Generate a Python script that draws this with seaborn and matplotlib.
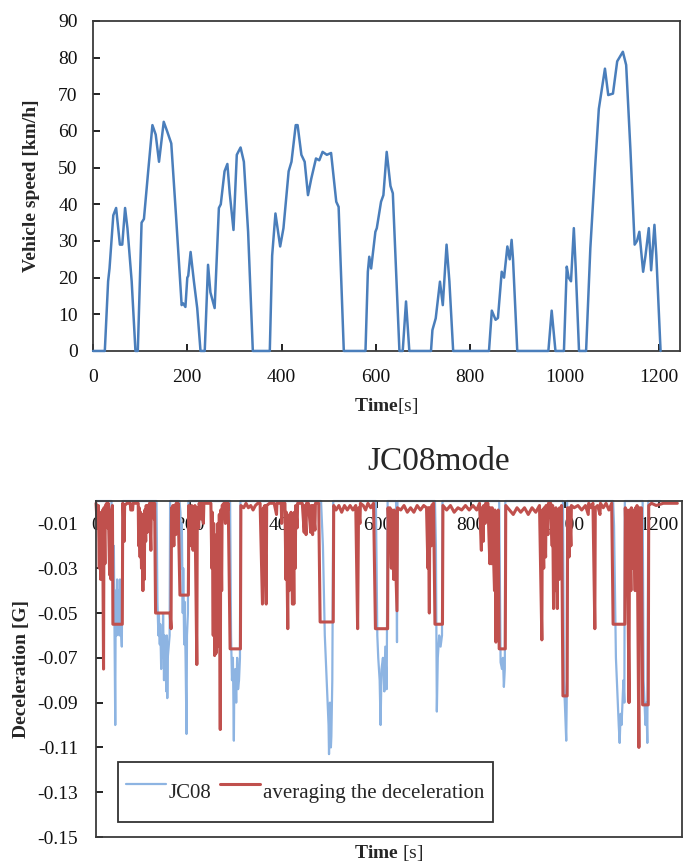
import matplotlib
matplotlib.use("Agg")
import matplotlib.pyplot as plt
import seaborn as sns
import numpy as np
from matplotlib.ticker import FormatStrFormatter

# JC08 speed profile (time [s], speed [km/h])
speed_t = [0, 25, 32, 35, 43, 49, 57, 62, 68, 73, 82, 90, 95, 103, 108, 117, 126, 133, 140, 150,
           157, 166, 176, 184, 188, 191, 196, 200, 202, 207, 214, 221, 228, 237, 244, 249, 258, 267,
           271, 279, 285, 290, 298, 305, 313, 320, 329, 339, 375, 380, 387, 397, 404, 415, 421, 430,
           434, 442, 449, 456, 463, 473, 480, 487, 496, 505, 516, 521, 532, 578, 583, 586, 590, 599,
           602, 611, 616, 623, 631, 636, 650, 657, 664, 671, 717, 720, 727, 736, 742, 750, 756, 764,
           840, 846, 854, 859, 867, 872, 879, 884, 888, 891, 900, 966, 973, 981, 999, 1005, 1009,
           1014, 1020, 1024, 1031, 1046, 1055, 1065, 1073, 1086, 1093, 1103, 1112, 1124, 1131, 1140,
           1149, 1154, 1159, 1167, 1172, 1179, 1184, 1191, 1195, 1204]
speed_v = [0, 0, 19, 22.5, 37, 39, 29, 29, 39, 33.5, 19, 0, 0, 35, 36, 49, 61.6, 59, 51.6, 62.5,
           60, 56.6, 37, 20.7, 12.5, 13, 12, 20, 20.5, 27, 19, 11.7, 0, 0, 23.5, 16, 11.7, 39,
           40, 49, 51, 43, 33, 53.5, 55.5, 51.6, 32.5, 0, 0, 26, 37.5, 28.5, 33.5, 49, 51.6, 61.6,
           61.6, 53.5, 51.6, 42.5, 47, 52.5, 52, 54.3, 53.5, 54, 40.7, 39.3, 0, 0, 21.6, 25.7, 22.5, 32.5,
           33.5, 40.7, 42.5, 54.3, 45, 43, 0, 0, 13.5, 0, 0, 5.7, 8.9, 18.9, 12.5, 29, 19, 0,
           0, 11, 8.5, 9, 21.6, 20, 28.5, 25, 30.3, 25, 0, 0, 11, 0, 0, 23, 20,
           19, 33.5, 22.5, 0, 0, 28, 49.8, 66, 77, 69.8, 70.2, 79, 81.6, 78, 55,
           29, 30, 32.5, 21.6, 26, 33.5, 22, 34.4, 26, 0]

# deceleration of the cycle (blue) [G]
jc08_t = [0, 33, 34, 35, 37, 38, 40, 41, 42, 44, 45, 47, 48, 50, 51, 53, 55, 56, 57,
          129, 131, 133, 134, 136, 137, 139, 140, 142, 143, 145, 146, 148, 150, 151, 152, 153, 155, 157, 158,
          178, 180, 182, 183, 185, 186, 188, 189, 191, 193, 194, 196, 197,
          286, 288, 290, 292, 294, 295, 297, 299, 301, 303, 305, 307, 308,
          480, 484, 486, 488, 490, 492, 494, 496, 497, 499, 501, 502, 504, 506,
          597, 600, 602, 605, 607, 609, 612, 615, 617, 620, 622, 640, 642, 643,
          723, 725, 727, 729, 732, 735, 738, 739,
          860, 863, 866, 868, 870, 872, 873,
          996, 998, 1000, 1003, 1004, 1005,
          1103, 1105, 1107, 1109, 1111, 1113, 1115, 1117, 1119, 1121, 1123, 1125, 1127, 1128,
          1166, 1168, 1170, 1172, 1174, 1176, 1178, 1204]
jc08_g = [0, 0, -0.031, -0.005, -0.045, -0.02, -0.07, -0.1, -0.04, -0.06, -0.035, -0.058, -0.04, -0.06, -0.035, -0.055, -0.065, -0.03, 0,
          0, -0.045, -0.06, -0.05, -0.064, -0.055, -0.075, -0.06, -0.07, -0.05, -0.08, -0.06, -0.07, -0.085, -0.06, -0.088, -0.07, -0.065, -0.06, 0,
          0, -0.005, -0.03, -0.01, -0.05, -0.03, -0.064, -0.045, -0.07, -0.104, -0.06, -0.05, 0,
          0, -0.06, -0.08, -0.07, -0.107, -0.08, -0.075, -0.09, -0.07, -0.084, -0.08, -0.07, 0,
          0, -0.02, -0.04, -0.06, -0.07, -0.08, -0.09, -0.1, -0.113, -0.09, -0.11, -0.105, -0.08, 0,
          0, -0.06, -0.07, -0.08, -0.1, -0.075, -0.07, -0.085, -0.065, -0.084, 0, 0, -0.063, 0,
          0, -0.02, -0.094, -0.07, -0.06, -0.065, -0.06, 0,
          0, -0.072, -0.075, -0.07, -0.083, -0.075, 0,
          0, -0.08, -0.09, -0.107, -0.09, 0,
          0, -0.011, -0.04, -0.07, -0.08, -0.09, -0.1, -0.108, -0.095, -0.1, -0.09, -0.08, -0.09, 0,
          0, -0.08, -0.09, -0.1, -0.09, -0.108, 0, 0]

# averaged deceleration (red) [G]
avg_t = [0, 3, 5, 7, 8, 10, 11, 13, 14, 16, 17, 19, 20, 23, 25, 26, 29, 30, 32, 33, 35,
         36, 56, 57, 58, 60, 61, 66, 73, 74, 78, 79,
         90, 91, 92, 94, 95, 97, 98, 100, 101, 103, 104, 106, 107, 109, 110, 113, 114, 117, 118, 122, 124, 125,
         127, 158, 160, 161, 163, 164, 166, 167, 170, 171, 174, 175,
         179, 197, 198, 200, 201, 203, 204, 207, 208, 210, 211, 215, 216, 219, 220, 224, 225, 229, 230, 236,
         245, 247, 248, 250, 251, 253, 254, 256, 257, 259, 260, 262, 263, 265, 266, 268, 269, 273, 276, 277, 281, 282,
         286, 308, 309, 315, 320, 325, 330, 335, 340, 345, 350, 355, 357, 359, 360, 363, 364,
         370, 380, 385, 386, 395, 396, 397,
         403, 405, 406, 409, 410, 412, 413, 415, 416, 419, 420, 422, 423, 425, 426, 429, 430,
         440, 444, 445, 448, 449, 453, 458, 459, 462, 463, 467, 468, 475,
         478, 506, 507, 512, 518, 524, 530, 536, 542, 548, 554,
         558, 560, 563, 564, 570, 575, 580, 586, 592,
         596, 622, 623, 626, 627, 630, 631, 635, 636, 642, 643,
         650, 657, 664, 671, 678, 685, 692, 699, 705, 708, 709, 711, 712, 715, 716, 720,
         723, 739, 740, 748, 756, 764, 772, 780, 788, 796, 804, 812, 818,
         822, 823, 826, 827, 830, 831, 836, 840, 841, 844, 845, 850, 851, 853, 854, 857, 858,
         860, 873, 874, 882, 890, 898, 906, 914, 922, 930, 938, 946,
         951, 952, 955, 956, 959, 960, 964, 965,
         970, 973, 974, 976, 977, 980, 981, 984, 985, 988, 989, 992, 993,
         996, 1005, 1006, 1009, 1010, 1013, 1014, 1020, 1028, 1036, 1044, 1050, 1051, 1056, 1060,
         1064, 1065, 1070, 1075, 1076, 1082, 1088, 1094, 1100,
         1103, 1128, 1129, 1132, 1133, 1137, 1138, 1141, 1142, 1146, 1147, 1150, 1151, 1153, 1154,
         1158, 1159, 1162, 1163, 1166, 1178, 1179, 1185, 1195, 1210, 1225, 1240]
avg_g = [-0.001, -0.012, -0.002, -0.03, -0.005, -0.035, -0.01, -0.022, -0.004, -0.075, -0.003, -0.028, -0.002, -0.001, -0.012, -0.001, -0.033, -0.01, -0.035, -0.004, -0.002,
         -0.055, -0.055, -0.001, -0.002, -0.018, -0.002, -0.001, -0.001, -0.004, -0.004, -0.001,
         -0.001, -0.02, -0.003, -0.025, -0.005, -0.03, -0.006, -0.04, -0.008, -0.035, -0.004, -0.018, -0.002, -0.014, -0.002, -0.012, -0.001, -0.022, -0.001, -0.001, -0.008, -0.001,
         -0.05, -0.05, -0.057, -0.003, -0.02, -0.002, -0.02, -0.002, -0.015, -0.001, -0.01, -0.001,
         -0.042, -0.042, -0.002, -0.02, -0.003, -0.018, -0.002, -0.022, -0.003, -0.016, -0.002, -0.073, -0.003, -0.012, -0.001, -0.008, -0.001, -0.01, -0.001, -0.001,
         -0.001, -0.03, -0.005, -0.06, -0.01, -0.069, -0.02, -0.068, -0.015, -0.065, -0.01, -0.05, -0.006, -0.102, -0.004, -0.04, -0.002, -0.001, -0.01, -0.001, -0.004, -0.001,
         -0.066, -0.066, -0.002, -0.003, -0.001, -0.003, -0.002, -0.004, -0.002, -0.001, -0.001, -0.046, -0.003, -0.02, -0.002, -0.046, -0.002,
         -0.001, -0.001, -0.006, -0.001, -0.001, -0.01, -0.001,
         -0.001, -0.035, -0.005, -0.057, -0.01, -0.04, -0.006, -0.03, -0.005, -0.046, -0.008, -0.046, -0.005, -0.03, -0.002, -0.012, -0.001,
         -0.001, -0.014, -0.002, -0.015, -0.001, -0.001, -0.014, -0.002, -0.015, -0.002, -0.013, -0.001, -0.001,
         -0.054, -0.054, -0.002, -0.004, -0.002, -0.005, -0.002, -0.004, -0.002, -0.004, -0.002,
         -0.057, -0.003, -0.01, -0.001, -0.002, -0.004, -0.001, -0.003, -0.001,
         -0.057, -0.057, -0.003, -0.02, -0.003, -0.03, -0.004, -0.035, -0.004, -0.049, -0.003,
         -0.004, -0.002, -0.005, -0.003, -0.005, -0.002, -0.004, -0.002, -0.003, -0.03, -0.003, -0.05, -0.003, -0.02, -0.002, -0.001,
         -0.055, -0.055, -0.002, -0.004, -0.002, -0.005, -0.003, -0.004, -0.002, -0.004, -0.002, -0.004, -0.001,
         -0.022, -0.003, -0.018, -0.002, -0.01, -0.001, -0.001, -0.028, -0.003, -0.028, -0.003, -0.04, -0.004, -0.063, -0.005, -0.05, -0.004,
         -0.066, -0.066, -0.002, -0.004, -0.006, -0.003, -0.005, -0.003, -0.006, -0.003, -0.005, -0.002,
         -0.062, -0.004, -0.03, -0.003, -0.025, -0.002, -0.015, -0.001,
         -0.001, -0.02, -0.002, -0.048, -0.004, -0.04, -0.003, -0.048, -0.004, -0.035, -0.003, -0.02, -0.002,
         -0.087, -0.087, -0.003, -0.025, -0.003, -0.02, -0.002, -0.003, -0.002, -0.004, -0.002, -0.006, -0.001, -0.003, -0.001,
         -0.057, -0.003, -0.002, -0.006, -0.001, -0.003, -0.001, -0.004, -0.001,
         -0.055, -0.055, -0.003, -0.03, -0.004, -0.09, -0.004, -0.04, -0.003, -0.03, -0.004, -0.04, -0.003, -0.025, -0.002,
         -0.11, -0.003, -0.05, -0.003, -0.091, -0.091, -0.002, -0.001, -0.002, -0.001, -0.001, -0.001]

speed_xticks = [0, 200, 400, 600, 800, 1000, 1200]
speed_yticks = [0, 10, 20, 30, 40, 50, 60, 70, 80, 90]
decel_yticks = [-0.15, -0.13, -0.11, -0.09, -0.07, -0.05, -0.03, -0.01]

sns.set_theme(style="white")
plt.rcParams["font.family"] = ["Liberation Serif", "DejaVu Serif"]
plt.rcParams["mathtext.fontset"] = "custom"
plt.rcParams["mathtext.rm"] = "Liberation Serif"
plt.rcParams["mathtext.bf"] = "Liberation Serif:bold"
plt.rcParams["axes.unicode_minus"] = False

spine_col = "#3a3a3a"
fig = plt.figure(figsize=(6.84, 8.67), dpi=100)

# upper chart: vehicle speed
ax1 = fig.add_axes([0.136, 0.5952, 0.858, 0.3806])
sns.lineplot(x=speed_t, y=speed_v, ax=ax1, color="#4A7EBB", lw=1.8,
             estimator=None, sort=False)
ax1.lines[-1].set_clip_on(False)
ax1.lines[-1].set_zorder(3)
ax1.set_xlim(0, 1245)
ax1.set_ylim(0, 90)
ax1.set_xticks(speed_xticks)
ax1.set_yticks(speed_yticks)
ax1.tick_params(axis="both", direction="in", length=5, width=1.3, colors="#111111", labelsize=14)
ax1.tick_params(axis="y", pad=11, left=True)
ax1.tick_params(axis="x", pad=13, bottom=True)
ax1.set_xlabel(r"$\mathbf{Time}$[s]", fontsize=14, labelpad=7)
ax1.set_ylabel("Vehicle speed [km/h]", fontsize=14, fontweight="bold", labelpad=13)
for s in ax1.spines.values():
    s.set_color(spine_col)
    s.set_linewidth(1.3)

# lower chart: deceleration
ax2 = fig.add_axes([0.1404, 0.0346, 0.8567, 0.3875])
sns.lineplot(x=jc08_t, y=jc08_g, ax=ax2, color="#8DB4E2", lw=1.6,
             estimator=None, sort=False, label="JC08")
sns.lineplot(x=avg_t, y=avg_g, ax=ax2, color="#C0504D", lw=2.2,
             estimator=None, sort=False, label="averaging the deceleration")
for ln in ax2.lines:
    ln.set_clip_on(False)
ax2.set_xlim(0, 1250)
ax2.set_ylim(-0.15, 0)
ax2.set_yticks(decel_yticks)
ax2.yaxis.set_major_formatter(FormatStrFormatter("%.2f"))
ax2.set_xticks(speed_xticks)
ax2.xaxis.set_ticks_position("top")
ax2.tick_params(axis="both", direction="in", length=5, width=1.3, colors="#111111", labelsize=14)
ax2.tick_params(axis="x", top=True, bottom=False, labeltop=True, labelbottom=False, pad=-24)
ax2.tick_params(axis="y", left=True, pad=13)
ax2.xaxis.set_label_position("bottom")
ax2.set_xlabel(r"$\mathbf{Time}$ [s]", fontsize=14, labelpad=4)
ax2.set_ylabel("Deceleration [G]", fontsize=14, fontweight="bold", labelpad=5)
ax2.set_title("JC08mode", fontsize=24, x=0.585, pad=22)
for s in ax2.spines.values():
    s.set_color(spine_col)
    s.set_linewidth(1.3)

leg = ax2.legend(loc="lower left", bbox_to_anchor=(0.0375, 0.045), borderaxespad=0,
                 ncol=2, frameon=True, fancybox=False, edgecolor="black", fontsize=15,
                 handlelength=1.9, handleheight=2.85, borderpad=0.4, columnspacing=0.4,
                 handletextpad=0.15)
leg.get_frame().set_linewidth(1.3)

fig.savefig("out.png", dpi=100)
